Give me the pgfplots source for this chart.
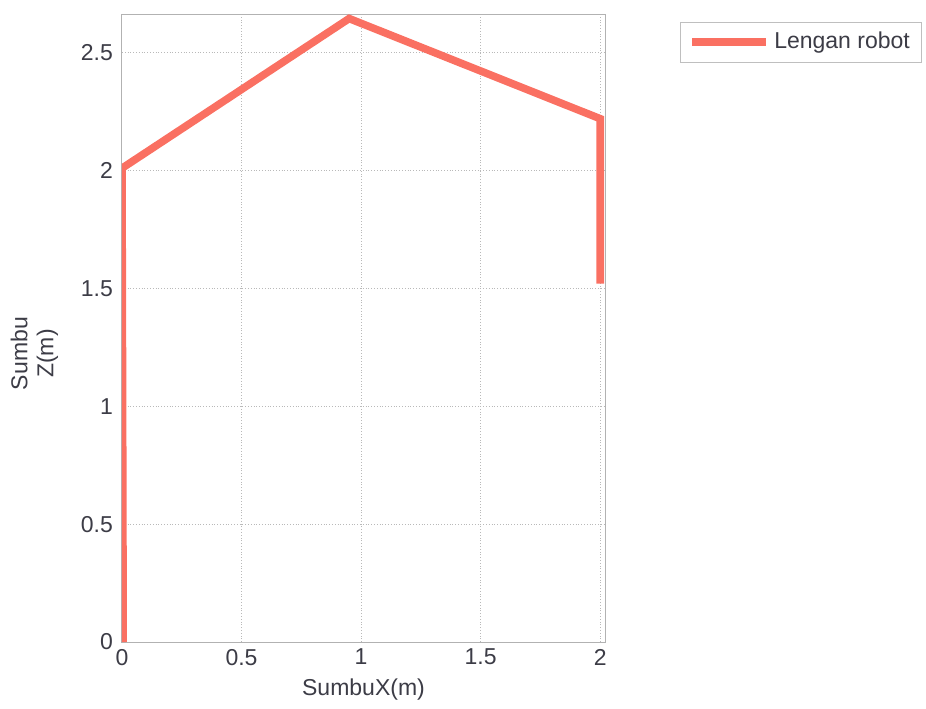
\documentclass[border=0pt]{standalone}
\usepackage{pgfplots}
\pgfplotsset{compat=1.18}
\usepackage{fontspec}
\setmainfont{Liberation Sans}
\definecolor{arm}{RGB}{250,112,98}
\definecolor{txt}{RGB}{60,60,70}
\begin{document}
\begin{tikzpicture}
\begin{axis}[
  at={(0,0)}, anchor=south west,
  width=241.5pt, height=313.5pt, scale only axis,
  xmin=0, xmax=2.02, ymin=0, ymax=2.66,
  xtick={0,0.5,1,1.5,2}, ytick={0,0.5,1,1.5,2,2.5},
  xticklabels={0,0.5,1,1.5,2}, yticklabels={0,0.5,1,1.5,2,2.5},
  tick style={draw=none},
  grid=major,
  grid style={densely dotted, gray!55, line width=0.5pt},
  axis line style={gray!60, line width=0.5pt},
  ticklabel style={font=\fontsize{11.5}{13}\selectfont, text=txt},
  xlabel={SumbuX(m)}, ylabel={Sumbu\\Z(m)},
  xlabel style={font=\fontsize{11.5}{13}\selectfont, text=txt, yshift=0pt},
  ylabel style={font=\fontsize{11.5}{13}\selectfont, text=txt, align=center,
    at={(ticklabel cs:0.46)}, yshift=4.5pt},
  yticklabel style={xshift=-1pt},
  legend style={at={(1.155,0.989)}, anchor=north west, draw=gray!50,
    font=\fontsize{11.5}{13}\selectfont, text=txt,
    inner xsep=4pt, inner ysep=3pt},
  legend cell align=left,
  legend image code/.code={\draw[#1, line width=4pt] (0,0) -- (37pt,0);},
]
\addplot[arm, line width=3.8pt, line join=miter] coordinates {
  (0.005,0) (0,2.01) (0.95,2.645) (2.0,2.22) (2.0,1.52)
};
\addlegendentry{Lengan robot}
\end{axis}
\path[use as bounding box] (-61pt,-33pt) rectangle (402pt,321pt);
\end{tikzpicture}
\end{document}
